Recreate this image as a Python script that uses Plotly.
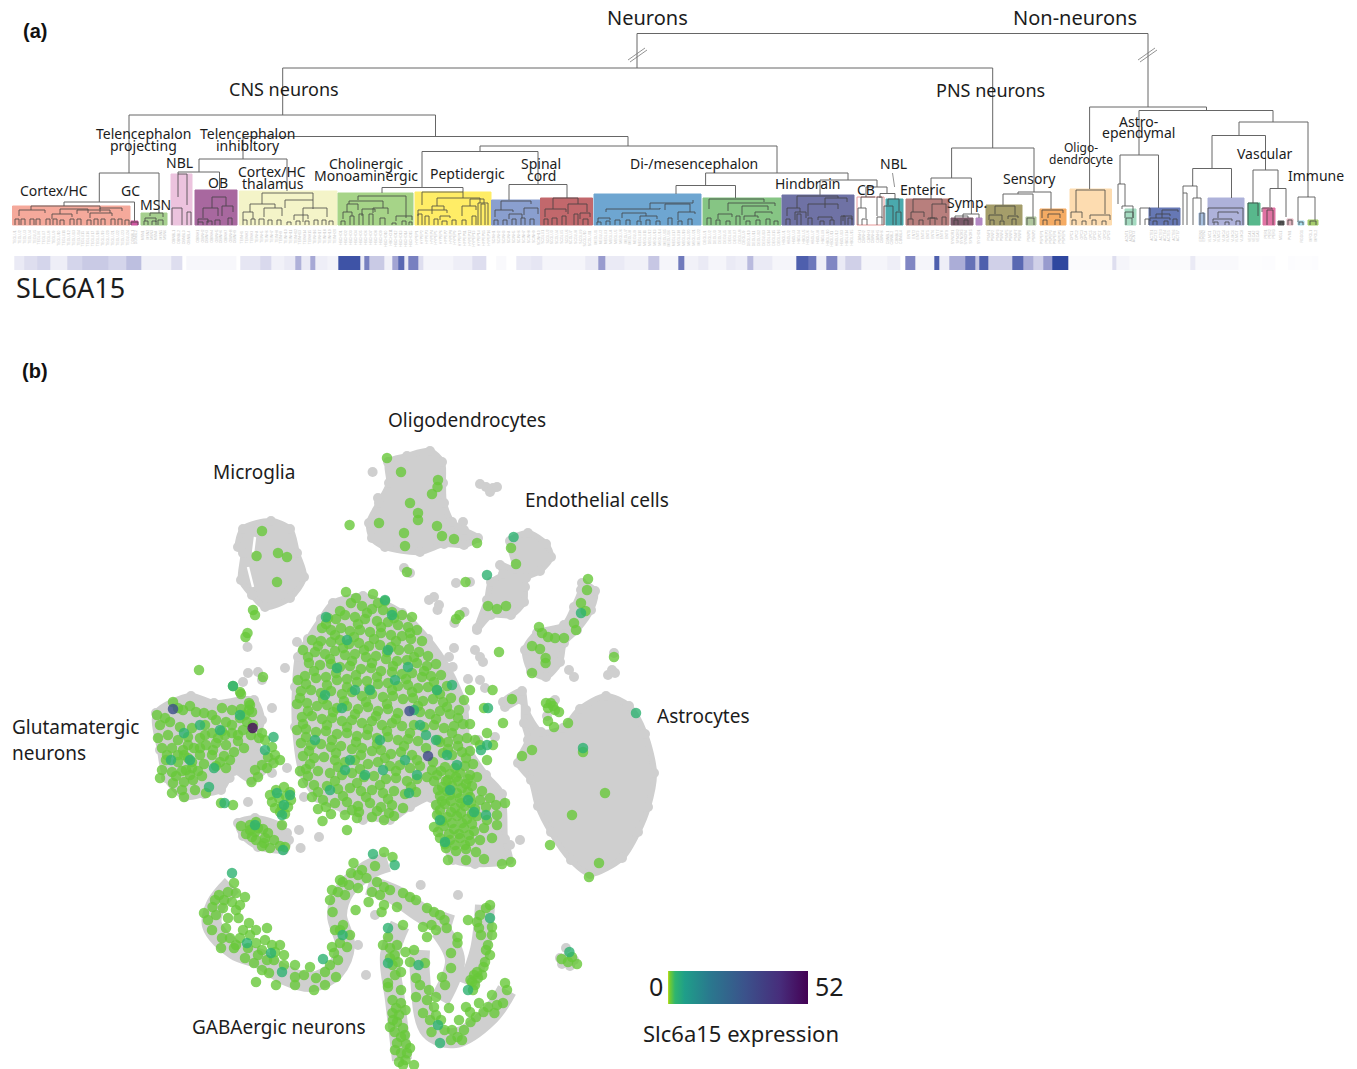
import plotly.graph_objects as go

# ---------- panel (a): dendrogram ----------
block_x0 = [12.5,131,141,171,195,239.5,338,415,491.5,540.5,594,703,782,857,886,906,951,976,986,1026,1040,1070,1125,1149,1199,1208,1248,1263,1278,1287,1298,1308]
block_x1 = [130,138,167,192,237,337,413,491,541,592.5,701,781,854,884,903,949,973,982,1022,1036,1066,1111.5,1136,1180,1205,1244,1260,1275,1284,1293,1304,1318]
block_top = [206,221,213,174,190,191,193,192,200,198,194,198,195,197,199,199,218,218,205,217,209,189,209,208,213,198,203,208,221,219,221,220]
block_color = ['#f5a99b','#cf55a0','#a6d08f','#ecc3de','#a8689f','#f4f4c8','#a6d488','#ffed66','#8a9fcf','#c2686c','#6ea6d1','#86c584','#6f72a5','#ffffff','#4aa9ad','#b87f7d','#7a5969','#b388c4','#a49d6a','#b1c79f','#f5ab63','#fddcb0','#a5dbc1','#6678b5','#a8c0e0','#aeb2da','#58b88c','#e073a3','#555555','#e3b5c0','#a8dcec','#a5cd6c']
block_prefix = ['TEGLU','DGNBL','MSN','OBNBL','OBINH','TEINH','HBCHO','HYPEP','SCINH','SCGLU','MEGLU','DEGLU','HBGLU','CBINH','CBNBL','ENT','SYNOR','SYCHO','PSNF','PSNP','PSPEP','OPC','ACNT','ACTE','EPEN','VLMC','VECA','PER','MGL','PVM','RGDG','MFOL']
block_count = [24,2,6,4,9,20,15,16,10,11,22,16,15,6,4,9,5,1,8,2,6,9,3,7,2,8,3,3,1,1,1,2]

main_brackets = [
 (637,1148,33.5,68,107),(282.7,992.7,68,115,148),(129,435.5,115,173,136.5),(99.3,159,173,202,213),
 (64,134.5,202,206,221),(243,628,136.5,159,146),(199,287,159,172,191),(178,219.5,172,174,190),
 (480,777,146,151.5,173),(422,538,151.5,187.5,184.5),(382,463,187.5,193,192),(509,567,184.5,200,198),
 (705.6,848,173,185.5,180),(676,735.5,185.5,194,198),(820,877,180,195,187),(866,887,187,197,193.5),(880,895,193.5,198,199),
 (951.6,1034,148,178,192),(931,971.4,178,199,214),(963,979,214,218,218),(1018,1051,192,194,209),(1003,1033,194,205,217),
 (1089.6,1206.5,107,189,110.5),(1139,1273,110.5,155,122),(1120,1158.5,155,184,208),(1239,1308,122,135.5,197),
 (1212,1265.5,135.5,168.5,170),(1192.7,1231.5,168.5,186,198),(1253,1278,170,203,188.5),(1270,1286,188.5,207,217),
]
inner_brackets = [
 # cortex / hippocampus
 (31,100,206,210,209),(19,45,210,216,213),(60,88,209,214,213),(100,122,208,212,211),(77,110,210,214,213),(52,72,214,219,217),(90,112,213,218,216),
 (131,138,222,225,225),(150,163,213,216,217),(145,156,218,221,222),
 # NBL, OB
 (178,187,174,197,205),(172,182,208,225,225),(187,191,212,225,225),(212,226,197,208,206),(203,218,208,218,216),(222,233,206,216,212),(198,208,219,222,223),
 # thalamus
 (262,313,193,204,200),(250,275,204,212,208),(285,313,200,208,209),(243,253,212,220,219),(264,282,208,217,216),(303,327,208,222,217),(294,308,215,220,219),
 # cholinergic, peptidergic
 (358,406,196,200,218),(349,383,201,204,208),(347,358,204,212,210),(362,375,209,216,212),(373,388,208,213,214),(396,412,216,221,220),(343,352,212,219,216),
 (422,463,192,205,198),(437,480,198,206,203),(418,447,210,216,213),(432,444,206,214,210),(470,484,199,206,203),(462,476,206,216,210),(440,450,216,220,218),(478,488,203,225,225),
 # spinal cord, red
 (501,531,201,210,204),(495,513,210,217,212),(524,538,208,215,214),(509,522,214,219,218),(553,578,198,209,204),(545,566,209,217,212),(568,587,204,214,212),(580,590,213,219,217),
 # mid / hindbrain
 (606,660,209,212,208),(650,693,203,209,200),(665,690,204,210,212),(622,646,213,218,216),(598,610,218,222,220),(678,695,212,220,214),(640,657,216,220,219),
 (709,764,199,209,202),(728,775,203,211,206),(742,768,206,215,210),(718,732,214,219,217),(755,772,212,216,214),(744,758,216,220,218),
 (797,838,196,208,198),(787,800,208,216,212),(825,847,198,208,202),(808,838,204,216,209),(795,806,212,220,218),(818,832,217,220,220),(843,852,216,221,220),
 (861,875,197,208,197),(858,866,208,225,218),(877,882,197,216,218),(888,899,199,205,211),(884,893,206,225,225),(896,901,212,225,225),
 # PNS
 (913,942,199,212,204),(911,924,212,219,217),(932,946,204,218,213),(928,937,218,220,220),(955,968,216,219,218),
 (995,1015,206,214,215),(989,1002,215,220,220),(1008,1018,216,219,218),(1042,1063,210,218,213),(1048,1060,214,218,218),
 # non-neurons
 (1076,1105,190,212,214),(1071,1082,212,218,218),(1090,1110,215,219,220),(1118,1125,184,204,206),(1122,1133,206,209,218),(1125,1133,212,218,218),
 (1140,1150,208,225,216),(1162,1178,210,218,212),(1150,1170,218,221,220),(1156,1170,214,218,216),(1183,1197,186,193,198),(1183,1187,193,225,225),(1193,1201,198,225,212),
 (1208,1243,208,225,225),(1218,1238,212,218,214),(1213,1232,219,223,221),(1248,1258,203,225,216),(1262,1272,208,212,209),(1267,1273,210,225,225),
 (1298,1315,197,222,220),
]
twigs = [(15,19,219),(21,25,219),(30,34,219),(36,40,219),(46,50,219),(53,57,219),(60,64,220),(70,74,219),(77,81,219),(87,91,220),(94,98,219),(101,105,219),(111,115,219),(118,122,219),(125,129,220),
 (144,148,221),(152,156,221),(158,163,220),(198,203,222),(207,212,221),(215,220,220),(228,232,218),(243,247,220),(251,255,219),(259,264,219),(268,272,220),(277,281,220),(287,291,222),(296,300,221),(305,309,221),(314,318,220),(322,326,220),(329,333,221),
 (341,345,221),(350,354,216),(359,363,214),(369,373,214),(380,385,218),(392,396,223),(402,406,221),(409,412,222),
 (418,422,214),(425,429,216),(434,438,219),(442,447,221),(452,456,220),(462,466,220),(472,476,216),(481,485,204),
 (494,498,220),(503,507,220),(512,516,219),(521,525,218),(530,534,219),(544,548,219),(552,557,218),(562,566,216),(574,578,214),(583,588,219),
 (597,601,222),(606,610,221),(615,620,220),(626,630,220),(637,641,221),(646,650,220),(656,660,221),(668,672,218),(678,682,221),(688,692,219),
 (707,711,218),(716,720,220),(726,730,221),(736,740,216),(746,750,221),(756,760,220),(766,770,219),(774,778,221),
 (786,790,219),(797,801,214),(808,812,218),(820,824,221),(830,834,220),(841,845,216),(848,852,218),(862,867,219),(877,882,217),
 (908,913,219),(919,923,220),(930,935,218),(942,946,217),(954,958,220),(964,968,220),(990,994,220),(1000,1004,221),(1012,1016,219),(1027,1034,218),(1043,1047,220),(1055,1060,220),
 (1072,1076,220),(1082,1086,221),(1092,1096,220),(1102,1106,221),(1126,1132,218),(1145,1149,219),(1153,1157,221),(1164,1168,221),(1173,1177,219),(1200,1204,213),
 (1214,1218,222),(1225,1229,222),(1236,1240,221),(1280,1283,222),(1288,1292,220),(1299,1303,222),(1310,1316,221)]
break_x0 = [628,630,1138,1140]
break_y0 = [60,62,60,62]
break_x1 = [645,647,1155,1157]
break_y1 = [48,50,48,50]
pointer_x = [892.5,894.6]
pointer_y = [173,187]

# expression strip
heat_edges = [14.3,23.9,36.9,49.9,67.2,82.4,108.4,125.8,140.9,171.3,182,186.5,236.3,240.7,260,271,284,295,301.4,310,315.3,327.4,338.2,360,364.3,369.5,383.8,392.5,398,404.2,408.5,418.5,422.8,453,472.7,486.6,496.5,506.5,516,531,542,585.4,598.4,605,624.5,648.3,659,678.7,684,698,708,726.4,735,747,753,772,795.8,808,816.6,826,837,845.6,860.8,886.8,900,905,915,934.5,939.7,949.7,965,975.7,978.8,988.7,1012.6,1023.4,1033.4,1043,1052.5,1068,1112,1116.6,1129.7,1190.4,1195.6,1238,1262,1275,1288,1294.4,1311.8,1318]
heat_values = [.1,.16,.2,.08,.2,.25,.2,.3,.07,.16,0,.04,0,.12,.18,.07,.1,.36,.1,.4,.08,.06,.92,.1,.62,.25,.07,.42,.78,.1,.62,.16,.05,.08,.16,0,.03,0,.1,.12,.05,.1,.46,.1,.07,.26,.05,.66,.07,.1,.05,.1,.08,.32,.1,.05,.84,.68,.08,.58,.1,.22,.05,.08,0,.58,.05,.84,.08,.38,.72,.26,.84,.22,.78,.38,.22,.46,1,.02,.16,.05,.025,.1,.03,.01,.015,0,.015,.01,.015]

# ---------- panel (b): t-SNE map ----------
gray_oligo = [(388,462),(407,456),(430,451),(442,462),(443,483),(444,503),(452,522),(464,530),(478,538),(464,545),(444,544),(420,552),(385,547),(372,538),(369,523),(379,503),(389,483)]
gray_micro = [(243,529),(271,521),(290,529),(297,553),(304,577),(290,598),(265,607),(252,595),(241,580),(243,553),(238,547)]
gray_endo = [(510,541),(528,533),(546,544),(551,557),(540,571),(526,578),(525,587),(524,602),(511,615),(491,615),(477,630),(477,628),(487,600),(491,582),(503,574),(500,565),(515,569)]
gray_vasc = [(582,583),(595,591),(591,610),(577,630),(564,643),(560,662),(546,677),(531,671),(525,650),(537,633),(564,625),(574,607),(581,590)]
gray_astro = [(580,709),(606,696),(629,706),(645,734),(654,773),(648,807),(638,832),(622,858),(590,874),(571,860),(551,832),(538,806),(531,780),(518,763),(528,740),(524,723),(522,700),(505,707),(503,702),(522,691),(526,710),(541,732),(563,728)]
gray_center = [(333,603),(363,596),(402,613),(428,639),(448,668),(465,708),(468,747),(486,775),(502,794),(505,839),(509,860),(475,864),(453,860),(440,829),(431,798),(410,807),(390,820),(370,817),(344,810),(318,798),(302,773),(295,727),(295,687),(298,657),(308,639),(321,619)]
gray_left = [(156,713),(191,696),(214,703),(254,700),(262,720),(256,745),(272,760),(251,780),(234,771),(221,790),(204,794),(185,797),(166,778),(160,750)]
gray_bottom = [(238,823),(255,818),(281,826),(289,840),(284,850),(258,847),(243,836)]
gray_bands = [[(232,885),(216,905),(212,925),(235,950),(262,960),(285,975),(312,982),(335,970),(345,945),(337,915),(345,890),(368,870),(388,862)],
 [(368,885),(395,895),(425,915),(452,925)],
 [(400,925),(390,955),(395,1000),(402,1060)],
 [(485,905),(480,950),(468,985)],
 [(507,990),(490,1015),(455,1038),(430,1030),(420,975),(420,950)],
 [(440,930),(455,960),(440,1000)]]
gray_dots = [(372.6,472),(378,498),(480,484),(486,487),(493,488),(497,487),(490,492),(463,522),(404,568),(410,573),(456,583),(470,582),(434,597),(429,600),(439,605),(437.5,610),(464.5,612),(454.4,623),(475,650),(480,657),(483,662),(454,648),(449,657),(452.7,667),(468,679),(480,680),(485,688),(569,670),(574,677),(614,653),(612,670),(608,675),(615,673),(297,642),(285,668),(248,673),(258,672),(262,680),(243,682),(272,708),(247.5,647),(287,768),(272,773),(234.7,770),(229.6,778),(221,783),(248,802),(304,797),(319,837),(299,830),(300.6,848),(287,833),(363,820),(478,740),(495,737),(566,948),(560,958),(566,958),(574,960),(570,966),(562,964),(420.7,885),(375,915),(358,945),(366,975),(458,895),(520,840),(510,845),(555,700),(547,716)]
slit_x = [255,253,None,248,253]
slit_y = [537,553,None,567,587]

green_center = [(346,592),(373,594),(385,601),(351,603),(362,606),(372,609),(383,610),(392,612),(402,615),(412,617),(328,618),(336,619),(345,615),(355,617),(365,619),(377,621),(388,622),(398,625),(408,627),(417,630),
 (322,628),(331,630),(341,628),(350,631),(360,630),(370,632),(381,633),(391,635),(402,636),(411,639),(422,641),(312,640),(321,641),(331,642),(340,640),(349,644),(359,643),(369,646),(380,645),(391,647),(399,650),(409,649),(419,652),(428,656),
 (303,650),(315,652),(325,654),(335,651),(345,655),(355,654),(366,657),(376,656),(386,659),(397,661),(407,660),(417,663),(427,666),(436,664),(309,663),(320,665),(331,664),(340,667),(350,666),(361,669),(371,668),(381,671),(392,672),(402,674),(412,673),(422,677),(431,676),(441,675),
 (298,680),(305,676),(316,678),(326,677),(337,680),(347,679),(357,682),(367,681),(378,684),(388,683),(398,686),(408,685),(418,688),(428,687),(437,690),(447,686),(301,691),(311,690),(321,693),(331,691),(342,694),(352,692),(362,696),(372,694),(383,697),(393,696),(403,699),(413,698),(423,701),(433,699),(443,702),(451,698),
 (297,704),(307,703),(317,706),(327,705),(337,708),(347,706),(358,709),(368,707),(378,711),(388,709),(398,713),(420,712),(430,714),(440,711),(450,714),(459,710),(302,717),(312,716),(322,719),(332,718),(342,721),(352,720),(362,723),(372,721),(382,725),(392,723),(402,726),(414,725),(424,727),(434,725),(444,728),(454,726),(463,724),
 (297,730),(306,729),(316,732),(326,731),(337,734),(347,733),(357,736),(367,735),(377,738),(388,737),(398,740),(408,739),(418,741),(438,740),(448,742),(458,739),(467,738),(301,743),(311,745),(321,744),(331,747),(341,746),(352,749),(362,748),(372,751),(381,750),(391,754),(401,752),(412,755),(443,753),(452,755),(462,752),(470,751),
 (303,756),(314,758),(324,757),(335,760),(345,762),(355,760),(368,764),(378,762),(390,766),(400,765),(410,768),(420,766),(445,767),(455,768),(465,766),(473,764),(306,769),(318,771),(330,773),(342,775),(352,773),(364,777),(374,776),(386,779),(396,778),(407,781),(417,779),(427,777),(448,780),(458,781),(468,779),(477,777),
 (300,771),(303,783),(314,785),(327,786),(338,789),(350,788),(361,791),(372,790),(383,793),(394,791),(405,794),(416,792),(312,797),(323,800),(335,803),(347,802),(358,806),(370,803),(381,807),(392,805),(403,808),(318,809),(331,814),(345,815),(357,818),(372,817),(384,820),(394,816),(322.5,821),(347,830),(359,812),(377,811)]
green_center_more = [(356,598),(378,603),(340,611),(367,613),(394,618),(326,624),(358,624),(381,627),(410,633),(335,635),(354,637),(374,639),(396,641),(318,646),(343,648),(364,650),(387,652),(414,657),(308,657),(330,659),(352,661),(372,663),(393,666),(424,671),(314,671),(336,673),(356,675),(377,677),(406,679),(434,682),(306,684),(327,685),(347,687),(369,689),(392,690),(412,692),(440,694),(300,698),(323,699),(344,701),(366,702),(387,704),(418,706),(447,707),(308,711),(333,712),(355,714),(376,716),(396,719),(436,719),(458,718),(303,724),(327,725),(347,727),(368,729),(387,731),(410,733),(452,733),(306,737),(332,740),(356,742),(377,744),(404,746),(426,748),(458,746),(309,751),(336,753),(361,755),(385,758),(417,760),(466,758),(310,764),(338,767),(360,769),(396,771),(432,770),(308,776),(335,781),(357,783),(380,785),(411,787),(318,792),(343,796),(366,797),(388,799),(326,807),(352,810),(389,813)]
green_band = [(440,742),(448,749),(433,762),(441,771),(450,774),(460,773),(470,775),(434,781),(442,787),(452,786),(462,788),(472,786),(482,791),(440,796),(450,795),(460,798),(470,797),(480,800),(490,798),(436,805),(445,804),(455,808),(465,806),(475,809),(486,807),(496,805),(437,815),(447,817),(457,816),(467,819),(477,816),(487,820),(497,815),(434,827),(444,826),(454,829),(464,828),(474,831),(484,828),(440,838),(450,840),(460,838),(470,841),(480,840),(492,838),(446,848),(456,851),(466,849),(476,852),(448,860),(466,860),(484,859),(502,864),(511,862),(497,825),(505,803),(487,760),(493,745),(480,745),(487,733),(475,740),(470,724),(464,700),(470,690),
 (437,775),(446,781),(456,777),(466,784),(438,790),(447,791),(457,793),(468,792),(442,801),(451,801),(461,803),(471,803),(440,810),(451,812),(461,813),(472,814),(442,821),(452,823),(462,823),(472,824),(438,832),(449,834),(459,834),(469,835),(445,844),(455,845),(465,845)]
green_left = [(173,702),(178,708),(157,715),(165,718),(183,710),(190,706),(196,712),(204,713),(212,715),(222,708),(232,710),(241,709),(250,705),(252,712),(160,725),(170,722),(180,727),(192,728),(205,725),(216,720),(226,722),(240,718),(247,722),(158,738),(168,735),(178,740),(188,737),(200,738),(212,733),(222,731),(232,733),(243,730),(251,735),(162,748),(172,748),(183,750),(194,748),(206,745),(216,743),(226,745),(238,741),(166,760),(178,762),(188,758),(200,755),(212,755),(224,756),(234,752),(244,748),(162,770),(172,772),(182,771),(192,768),(204,764),(216,766),(226,768),(184,782),(173,783),(193,780),(202,776),(160,778),(172,793),(184,797),(195,790),(206,793),(233,686),(240,692),(241,694),(249,703),(249,710),(262,733),(265,740),(272,747),(275,755),(280,760),(273.5,763),(267,768),(258,777),(251.5,782),(221,803),(233,805),(199,670),(263,677),(230,760),
 (225,735),(232,725),(238,735),(245,715),(184,755),(192,762),(178,755),(186,770),(198,771),(176,776),(167,755),(205,735),(213,750),(220,762),(218,738),(253,725),(259,738),(268,757),(262,765),(255,770),(188,745),(200,748),(182,790),(190,775)]
green_heart = [(270,795),(276,790),(284,787),(290,792),(272,802),(279,798),(286,796),(291,800),(275,808),(282,806),(288,807),(280,812),(285,814)]
green_low = [(241,826),(250,825),(256,822),(246,834),(255,832),(263,829),(256,840),(265,838),(274,840),(262,846),(270,848),(280,846),(285,847),(282,825),(252,837),(258,828),(268,833),(250,830),(264,843)]
green_gaba = [(234,883),(219,895),(236,893),(245,897),(212.5,907),(204,913),(232,902),(223,908),(236,910),(208,920),(228,918),(238.5,918),(249,923),(212,930),(230,938),(243,930),(236,945),(221,948),(234,948),(256,930),(267,928),(256,943),(262,950),(280,945),(245,958),(254,963),(267,960),(269,973),(256,982),(295,965),(295,977),(295,985),(310,967),(314,990),(325,985),(336,977),(325,972),(332,947),(334,953),(340,943),(347,947),(343,925),(335,930),(350,935),(274,960),(284,955),(262,970),(276,985),
 (224,900),(216,915),(226,928),(240,938),(250,935),(258,955),(248,948),(272,945),(265,940),(284,965),(304,975),(316,978),(330,965),(338,960),(340,930),(228,892),(215,900),(240,905),(222,938),(275,952),
 (332,890),(330,900),(342.6,882),(351,873),(353.5,863),(384,852),(392.5,857),(349,885),(358,888),(366.5,878),(377,882),(384,887),(390,890),(368.6,902),(384,905),(397,907),(381.6,912),(355.6,910),(332.6,912),(403,893),(416,900),(427,908),(440,915),(423,927),(431.5,925),(444.5,920),(446.7,928),(362,870),(345,895),(372,892),(340,880),(358,875),(375,866),(338,892),(380,895),(410,897),(434,912),(436,930),
 (403,925),(388,937),(390,948),(394.7,955),(405.5,952),(414,950),(392.5,965),(388,983),(401,972),(425,963),(416,978),(416,997),(427,937),(442,977),(451,968),(457.5,937),(457.5,943),(451,953),(429,990),(436,997),(434,1007),(423,1013),(436,1015),(449,1008),(466,1007),(479,1003),(397,945),(383,945),(410,962),(420,985),(445,985),(395,975),(390,958),(398,962),(427,1000),(441,1020),(430,1020),(452,1030),(470,1012),(459,1020),
 (468,920),(477,922),(486,908),(492,927),(479,928),(492,935),(488,945),(490,955),(483.5,967),(477,972),(470.5,980),(475,985),(505,983),(507,990),(503,1003),(494.4,1013),(492,995),(483.5,1012),(470.5,1022),(464,1030),(451,1040),(431.5,1032),(444.5,1030),(457.5,1037),(462,1040),(480,915),(490,905),(473,990),(485,962),(478,978),(474,975),(482,975),(472,982),(486,950),(481,935),(497,1005),(488,1007),(476,1017),
 (388,987),(401,990),(392.5,1000),(401,1003),(405.5,1010),(392.5,1013),(397,1022),(390,1027),(394.7,1032),(401,1037),(397,1043),(410,1048),(401,1053),(405.5,1060),(414,1065),(399,1062),(396,1008),(403,1028),(406,1044),(393,1020),(399,1015),(405,1035),(395,1050),(407,1053),(403,1065)]
green_other = [(387,458),(401,472),(438,480),(437.5,487),(432,494),(410,503),(418,513),(418,520),(379,523),(404,533),(437,526),(442,536),(454,539),(477,543),(405,546),(349.6,525),(407,572),(465.6,582),(511,548),(516,564),(488,606),(497,609),(506,606),(459.5,615),(456,619),
 (262,531),(256.6,556),(278,553),(287,557),(277,582),(253,610),(255,615),(247.5,633),(245.5,637),
 (588,579),(587,590),(581,603),(585.6,611),(574,623),(576,630),(539,627),(542,633),(548,637),(555,638),(564,638),(532,646),(540,649),(545.6,658),(545.6,663),(532,673),(499,652),(614,657),
 (492.6,690),(512,699),(484,708),(503,723),(550.7,703),(553,706),(548,708),(555,710),(546,703),(559,712),(548,721),(554,727),(568,723),(583,752),(532,750),(522,756),(605,793),(572,815),(550,845),(599,863),(589,877),
 (561.6,959),(572,957),(577,964),(568,962)]
teal_cells = [(373,854),(394.7,865),(388,928),(388,963),(418.5,965),(323,959),(247,943),(271,953),(282,972),(342.6,935),(440,1043),(438,1025),(490,918),(468,990),(232,873),(569.4,952),(513.6,537),(487,575),(581,613),(488,708),(636,713),(583,748),
 (233,686),(273.5,737),(265,750),(337,668),(325,695),(347,640),(388,650),(370,690),(408,667),(395,680),(385,600),(392,615),(326,617),(342,708),(355,690),(315,740),(350,760),(380,740),(414,710),(420,725),(437,690),(452,685),(426,735),(405,760),(383,770),(409,793),(330,790),(365,775),(417,775),(436,740),(447,755),(457,765),(450,790),(468,800),(440,820),(474,812),(486,815),(445,842),(487,745),(481,750),(345,770),(200,725),(184,733),(220,730),(240,715),(190,760),(171,760),(209,787),(214,768),(277,793),(284,805),(290,795),(282,815),(255,825),(283,850),(224.5,803)]
dark_cells = [(173,709),(252.6,728),(409.5,711),(428,756)]
dark_values = [30,50,30,32]
green_level = 1
teal_level = 3

leaf_label_size = 3.5
labels_a = [("Neurons",647,17,20),("Non-neurons",1075,17,20),("CNS neurons",284,89,18),("PNS neurons",990,90,18),
 ("Telencephalon",143,133,14),("projecting",143,145,14),("Telencephalon",247,133,14),("inhibitory",248,145,14),("NBL",179,162,14),("OB",218,182,14),("Cortex/HC",272,171,14),("thalamus",273,183,14),("Cortex/HC",54,190,14),("GC",130,190,14),("MSN",155,204,14),("Cholinergic",366,163,14),("Monoaminergic",366,175,14),("Peptidergic",467,173,14),("Spinal",541,163,14),("cord",541,175,14),("Di-/mesencephalon",694,163,14),("Hindbrain",807,183,14),("CB",866,189,14),("NBL",893,163,14),("Enteric",923,189,14),("Symp.",967,202,14),("Sensory",1029,178,14),("Oligo-",1081,147,12),("dendrocyte",1081,159,12),("Astro-",1138,121,14),("ependymal",1138,132,14),("Vascular",1265,153,14),("Immune",1316,175,14),("SLC6A15",70.5,287,27)]
labels_b = [("Oligodendrocytes",467,420,19),("Microglia",254,472,19),("Endothelial cells",597,500,19),("Astrocytes",703,716,19),("Glutamatergic",75,727,19),("neurons",49,753,19),("GABAergic neurons",279,1027,19),("0",656,986,25),("52",829,986,25),("Slc6a15 expression",741,1033,22)]
panel_tags = [("(a)",35,31),("(b)",35,371)]

# ---------- helpers ----------
def bracket_xy(items):
    xs, ys = [], []
    for x0, x1, top, yl, yr in items:
        xs += [x0, x0, x1, x1, None]
        ys += [yl, top, top, yr, None]
    return xs, ys

def poly_xy(polys, close=True):
    xs, ys = [], []
    for p in polys:
        pts = p + [p[0]] if close else p
        xs += [a for a, _ in pts] + [None]
        ys += [b for _, b in pts] + [None]
    return xs, ys

fig = go.Figure()

# cluster blocks
fig.add_trace(go.Bar(
    x=[(a + b) / 2 for a, b in zip(block_x0, block_x1)],
    width=[b - a for a, b in zip(block_x0, block_x1)],
    base=block_top,
    y=[225 - t for t in block_top],
    marker=dict(color=block_color,
                line=dict(color=['#e89a9a' if c == '#ffffff' else c for c in block_color], width=1)),
    hoverinfo='skip', showlegend=False))

# dendrogram
xs, ys = bracket_xy(main_brackets)
fig.add_trace(go.Scatter(x=xs, y=ys, mode='lines', line=dict(color='#666666', width=1), hoverinfo='skip', showlegend=False))
twig_items = [(a, b, t, 225, 225) for a, b, t in twigs]
xs, ys = bracket_xy(inner_brackets + twig_items)
fig.add_trace(go.Scatter(x=xs, y=ys, mode='lines', line=dict(color='#3f3f3f', width=0.9), opacity=.85, hoverinfo='skip', showlegend=False))
xs, ys = [], []
for a, b, c, d in zip(break_x0, break_y0, break_x1, break_y1):
    xs += [a, c, None]; ys += [b, d, None]
fig.add_trace(go.Scatter(x=xs + pointer_x, y=ys + pointer_y, mode='lines', line=dict(color='#777777', width=0.8), hoverinfo='skip', showlegend=False))

# strip
fig.add_trace(go.Heatmap(x=heat_edges, y=[256, 270], z=[heat_values], zmin=0, zmax=1,
    colorscale=[[0, '#ffffff'], [.15, '#e0e0f0'], [.5, '#8f92ca'], [1, '#2f479f']], showscale=False, hoverinfo='skip'))

# grey map
gray_polys = [gray_oligo, gray_micro, gray_endo, gray_vasc, gray_astro, gray_center, gray_left, gray_bottom]
xs, ys = poly_xy(gray_polys)
fig.add_trace(go.Scatter(x=xs, y=ys, mode='lines', fill='toself', fillcolor='#cfcfcf',
    line=dict(color='#cfcfcf', width=6, shape='spline', smoothing=.8), hoverinfo='skip', showlegend=False))
xs, ys = poly_xy(gray_bands, close=False)
fig.add_trace(go.Scatter(x=xs, y=ys, mode='lines', line=dict(color='#cfcfcf', width=20, shape='spline'), hoverinfo='skip', showlegend=False))
edge_dots = [p for poly in gray_polys for p in poly]
fig.add_trace(go.Scatter(x=[p[0] for p in gray_dots + edge_dots], y=[p[1] for p in gray_dots + edge_dots], mode='markers',
    marker=dict(color='#cfcfcf', size=10), hoverinfo='skip', showlegend=False))
fig.add_trace(go.Scatter(x=slit_x, y=slit_y, mode='lines', line=dict(color='white', width=2.5), hoverinfo='skip', showlegend=False))

# expressing cells
colorscale = [[0, '#c5e021'], [.012, '#76cc2e'], [.05, '#2fb56e'], [.12, '#1f9e89'], [.3, '#2a788e'], [.55, '#3b528b'], [.8, '#472d7b'], [1, '#440154']]
greens = green_center + green_center_more + green_band + green_left + green_heart + green_low + green_gaba + green_other
cells = greens + teal_cells + dark_cells
values = [green_level] * len(greens) + [teal_level] * len(teal_cells) + dark_values
fig.add_trace(go.Scatter(x=[p[0] for p in cells], y=[p[1] for p in cells], mode='markers', hoverinfo='skip', showlegend=False,
    marker=dict(size=10.5, color=values, cmin=0, cmax=52, colorscale=colorscale, opacity=.8, line=dict(width=0),
        colorbar=dict(orientation='h', x=668 / 1357, xanchor='left', y=1 - 971 / 1069, yanchor='top', ypad=0, xpad=0,
                      len=140, lenmode='pixels', thickness=33, thicknessmode='pixels', outlinewidth=0,
                      showticklabels=False, ticks=''))))

# leaf labels and text
annotations = []
for x0, x1, prefix, n in zip(block_x0, block_x1, block_prefix, block_count):
    step = (x1 - x0) / n
    for i in range(n):
        annotations.append(dict(x=x0 + step * (i + .5), y=228, text=f"{prefix}{i + 1}", textangle=-90, yanchor='top', xanchor='center',
            font=dict(size=leaf_label_size, color='#c6c6c6', family='Liberation Sans'), showarrow=False, xref='x', yref='y'))
for text, x, y, size in labels_a + labels_b:
    annotations.append(dict(x=x, y=y, text=text, showarrow=False, xref='x', yref='y', xanchor='center', yanchor='middle',
        font=dict(size=size, color='#1c1c1c', family='Noto Sans')))
for text, x, y in panel_tags:
    annotations.append(dict(x=x, y=y, text=f"<b>{text}</b>", showarrow=False, xref='x', yref='y',
        font=dict(size=20, color='#111111', family='Liberation Sans')))

fig.update_layout(width=1357, height=1069, margin=dict(l=0, r=0, t=0, b=0), paper_bgcolor='white', plot_bgcolor='white',
    xaxis=dict(range=[0, 1357], visible=False, fixedrange=True),
    yaxis=dict(range=[1069, 0], visible=False, fixedrange=True),
    barmode='overlay', annotations=annotations, showlegend=False)
fig.write_html("out.html", config=dict(displayModeBar=False), post_script="document.body.style.margin='0';")
